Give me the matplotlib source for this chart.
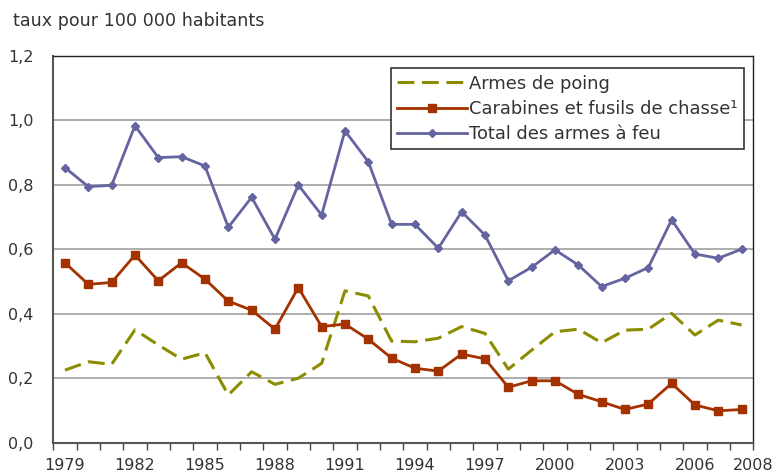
import matplotlib
matplotlib.use("Agg")
import matplotlib.pyplot as plt
import matplotlib.transforms as mtransforms
import numpy as np

years = list(range(1979, 2009))
armes_poing = [0.225, 0.251, 0.243, 0.350, 0.303, 0.259, 0.279, 0.148, 0.220, 0.181,
               0.200, 0.246, 0.471, 0.455, 0.315, 0.313, 0.324, 0.360, 0.339, 0.228,
               0.287, 0.344, 0.352, 0.310, 0.349, 0.352, 0.401, 0.334, 0.380, 0.365]
carabines = [0.558, 0.491, 0.497, 0.582, 0.502, 0.558, 0.507, 0.439, 0.411, 0.352,
             0.481, 0.360, 0.368, 0.321, 0.262, 0.231, 0.222, 0.275, 0.260, 0.172,
             0.192, 0.192, 0.150, 0.127, 0.103, 0.120, 0.184, 0.117, 0.099, 0.103]
total = [0.853, 0.794, 0.798, 0.983, 0.884, 0.887, 0.858, 0.668, 0.761, 0.631,
         0.799, 0.706, 0.967, 0.871, 0.677, 0.677, 0.603, 0.716, 0.644, 0.502,
         0.544, 0.598, 0.551, 0.484, 0.510, 0.543, 0.691, 0.585, 0.572, 0.600]
xtick_labels = ["1979", "1982", "1985", "1988", "1991", "1994", "1997", "2000", "2003", "2006", "2008"]
ytick_values = [0.0, 0.2, 0.4, 0.6, 0.8, 1.0, 1.2]
labels = ["Armes de poing", "Carabines et fusils de chasse\u00b9", "Total des armes \u00e0 feu"]

plt.rcParams['font.family'] = ['DejaVu Sans']
fig = plt.figure(figsize=(7.77, 4.74), dpi=100)
ax = fig.add_axes([0.0686, 0.066, 0.9009, 0.8165])

x = np.arange(len(years))
c_green = "#8c8c00"
c_red = "#a33200"
c_blue = "#6464a0"
txt = "#333333"

ax.plot(x, armes_poing, color=c_green, lw=2.2, dashes=(5.5, 2.5), label=labels[0], zorder=3)
ax.plot(x, carabines, color=c_red, lw=2, marker="s", ms=6, label=labels[1], zorder=4)
ax.plot(x, total, color=c_blue, lw=2, marker="D", ms=4.5, label=labels[2], zorder=5)

ax.set_xlim(-0.5, len(years) - 0.5)
ax.set_ylim(0, 1.2)
ax.set_yticks(ytick_values)
ax.set_yticklabels([f"{v:.1f}".replace(".", ",") for v in ytick_values])
ax.yaxis.grid(True, color="#a0a0a0", lw=1.2)
ax.set_axisbelow(True)

pos = [years.index(int(l)) for l in xtick_labels]
ax.set_xticks(pos)
ax.set_xticklabels(xtick_labels)
ax.set_xticks(np.arange(-0.5, len(years)), minor=True)
ax.tick_params(axis="x", which="major", length=0, pad=11, labelsize=11.5, colors=txt)
ax.tick_params(axis="x", which="minor", length=5, width=1, color="#444444", direction="out")
ax.tick_params(axis="y", length=0, pad=14, labelsize=11.5, colors=txt)

# last label shifted right as in reference
last = ax.get_xticklabels()[-1]
last.set_transform(last.get_transform() + mtransforms.ScaledTranslation(12 / 100, 0, fig.dpi_scale_trans))

for s in ["left", "bottom"]:
    ax.spines[s].set_color("#555555")
    ax.spines[s].set_linewidth(1.5)
for s in ["top", "right"]:
    ax.spines[s].set_color("#222222")
    ax.spines[s].set_linewidth(1)

leg = ax.legend(loc="upper right", bbox_to_anchor=(0.9867, 0.967), fontsize=12.9,
                frameon=True, fancybox=False, edgecolor="#333333", framealpha=1,
                handlelength=3.9, handletextpad=0.1, labelspacing=0.4, borderpad=0.35,
                borderaxespad=0)
leg.get_frame().set_linewidth(1.2)
for t in leg.get_texts():
    t.set_color(txt)

fig.text(0.017, 0.955, "taux pour 100 000 habitants", fontsize=12.6, color=txt, va="center")

fig.savefig("out.png", dpi=100)
